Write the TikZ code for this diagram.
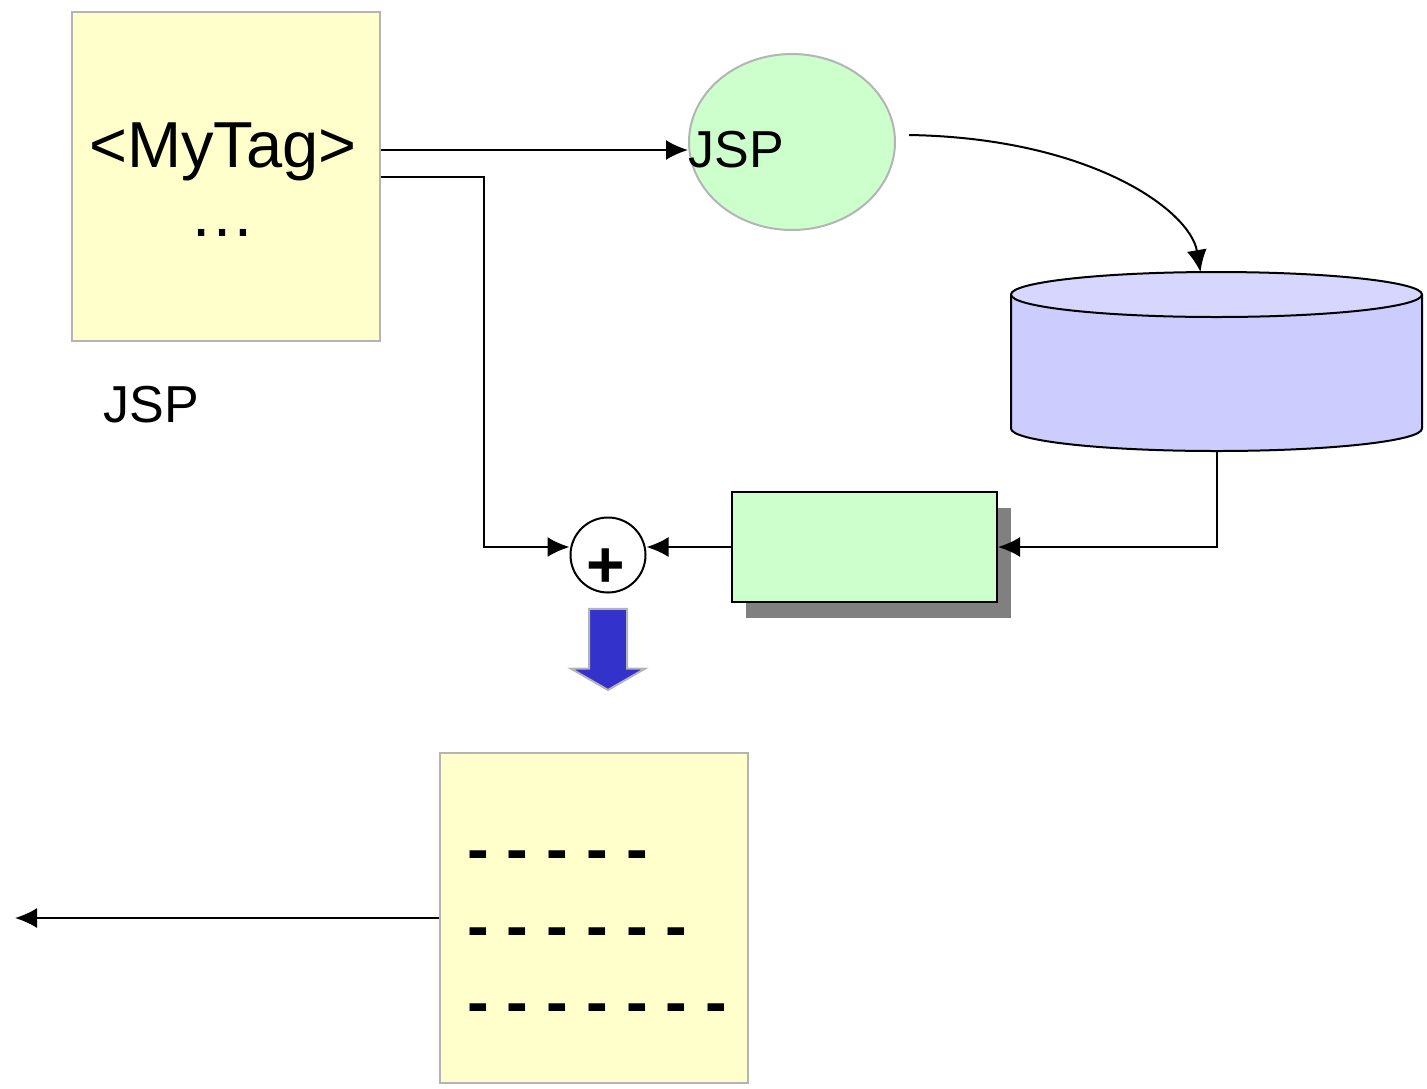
\documentclass[tikz,border=0pt]{standalone}
\usepackage{fontspec}
\setmainfont{Liberation Sans}
\usetikzlibrary{positioning,shapes.geometric,shapes.arrows,shadows,arrows.meta,calc}

\definecolor{notepaper}{HTML}{FFFFCC}
\definecolor{mintfill}{HTML}{CCFFCC}
\definecolor{dbfill}{HTML}{CCCCFF}
\definecolor{dbtop}{HTML}{D6D6FF}
\definecolor{pushblue}{HTML}{3333CC}
\definecolor{paleline}{HTML}{B4B4B4}

\begin{document}
\begin{tikzpicture}[
x=1pt, y=-1pt,
page/.style={
  draw=paleline,
  fill=notepaper,
  line width=2pt,
  minimum width=308pt,
  minimum height=329pt,
  inner sep=0pt
  },
big/.style={
  font=\fontsize{52}{62}\selectfont,
  anchor=base,
  inner sep=0pt
  },
dashrow/.style={
  font=\fontsize{65}{78}\selectfont\bfseries,
  anchor=base west,
  inner sep=0pt
  },
wire/.style={
  line width=2pt
  },
>={Latex[length=22pt,width=20pt]}
]
\useasboundingbox (0,0) rectangle (1427,1088);

% source page and its tag
\node[page] (tagbox) at (226,176.5) {};
\node[big, font=\fontsize{65}{78}\selectfont] (tagtxt) at (223,167) {<MyTag>};
\node[big, font=\fontsize{66}{78}\selectfont] (tagdots) at (222,236) {…};
\node[big] (jsplabel) at (151,422) {JSP};

% compiled page
\node[ellipse, draw=paleline, fill=mintfill, line width=2pt,
  minimum width=206pt, minimum height=176pt] (jsp) at (792,142) {};
\node[big] (jsptxt) at (736,167) {JSP};

% store (drawn by hand)
\coordinate (dbtop) at (1216.5,272);
\coordinate (db) at (1216.5,451);
\fill[dbfill] (1011,294.5) rectangle (1422,428.5);
\fill[dbfill] (1216.5,428.5) ellipse [x radius=205.5, y radius=22.5];
\draw[line width=2pt, fill=dbtop] (1216.5,294.5) ellipse [x radius=205.5, y radius=22.5];
\draw[line width=2pt] (1011,294.5) -- (1011,428.5)
  arc [start angle=180, end angle=0, x radius=205.5, y radius=22.5] -- (1422,294.5);

% handler with shadow
\node[draw, fill=mintfill, line width=2pt, minimum width=265pt,
  minimum height=110pt, inner sep=0pt,
  drop shadow={shadow xshift=14pt, shadow yshift=-16pt, fill=black!50, opacity=1}]
  (handler) at (864.5,547) {};

% merge point
\node[circle, draw, fill=white, line width=2pt, minimum size=75pt,
  inner sep=0pt] (plus) at (608,555) {};
\node[font=\fontsize{66}{76}\selectfont\bfseries, inner sep=0pt]
  (plussign) at (606,568) {+};

% push down
\node[single arrow, rotate=-90, draw=paleline, fill=pushblue, line width=2pt,
  minimum height=81pt, minimum width=73pt, single arrow head extend=18pt,
  single arrow tip angle=120, inner sep=18pt] (push) at (608,644) {};

% output page
\node[page, minimum height=330pt] (outbox) at (594,918) {};
\node[dashrow] (row1) at (467,871) {- - - - -};
\node[dashrow] (row2) at (467,948) {- - - - - -};
\node[dashrow] (row3) at (467,1024) {- - - - - - -};

\coordinate (bend) at ($(jsp.east)+(13,-7)$);
\coordinate (dbin) at ($(dbtop)+(-16,0)$);
\coordinate (client) at (15,918);

\draw[wire,->] ($(tagbox.east)+(0,-26.5)$) -- (jsp.west |- 0,150);
\draw[wire,->] (tagbox.east) -- (484,176.5) |- (plus.west |- handler.west);
\draw[wire,->] (bend) .. controls (1090,138) and (1190,210) .. (dbin);
\draw[wire,->] (db) |- (handler.east);
\draw[wire,->] (handler.west) -- (plus.east |- handler.west);
\draw[wire,->] (outbox.west) -- (client);
\end{tikzpicture}
\end{document}
